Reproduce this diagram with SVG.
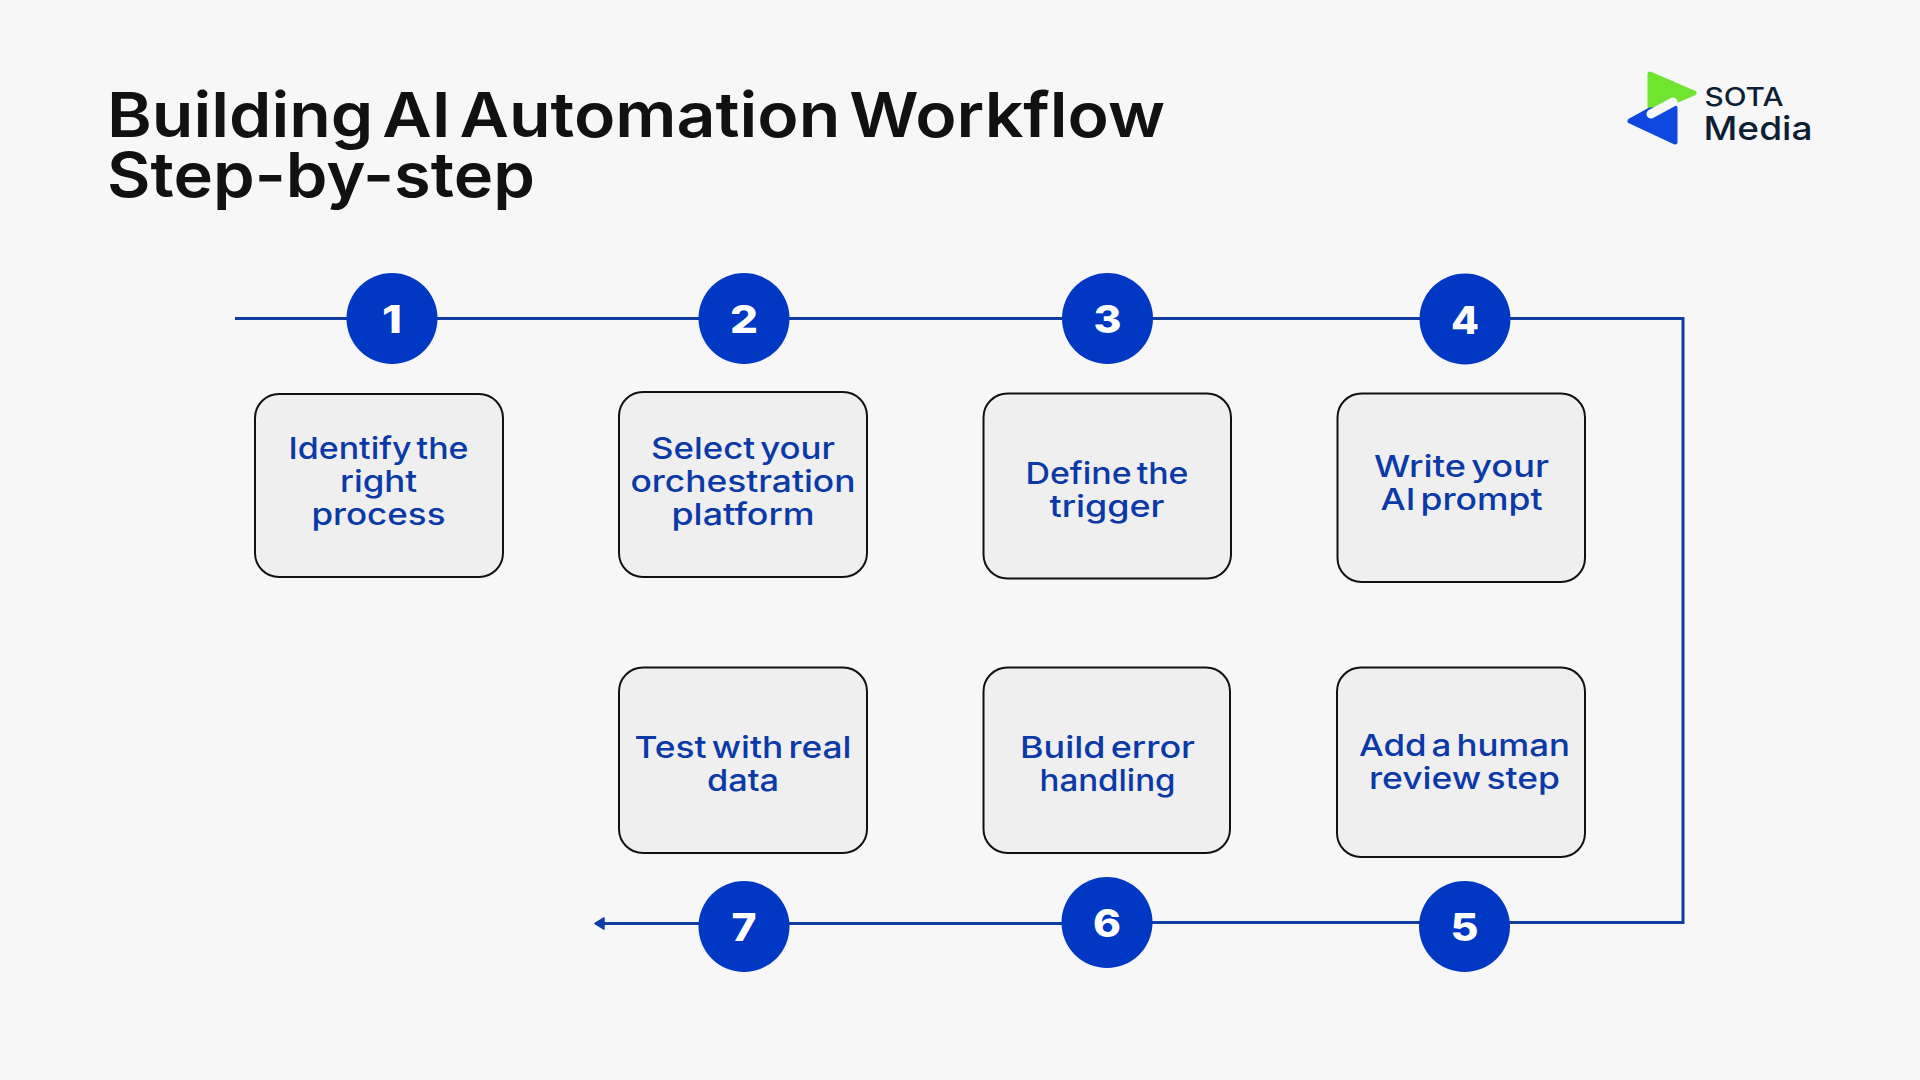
<svg xmlns="http://www.w3.org/2000/svg" width="1920" height="1080" viewBox="0 0 1920 1080">
<style>
.t{font-family:Inter,"Liberation Sans",sans-serif;}
.title{font-size:62px;font-weight:600;fill:#111111;word-spacing:-0.12em;}
.box{fill:#efefef;stroke:#111111;stroke-width:2;}
.lab{font-size:30px;font-weight:500;fill:#0b3aa8;text-anchor:middle;word-spacing:-0.12em;}
.dot{fill:#0038c4;}
.num{font-size:38px;font-weight:800;fill:#ffffff;text-anchor:middle;}
.wire{fill:none;stroke:#0f3ea0;stroke-width:3;}
.brand{fill:#0e1f33;font-weight:500;}
</style>
<defs>
<marker id="head" markerUnits="userSpaceOnUse" markerWidth="13" markerHeight="15" refX="2" refY="7.5" orient="auto" viewBox="0 0 13 15"><path d="M2 2L11 7.5L2 13Z" fill="#0f3ea0" stroke="#0f3ea0" stroke-width="1.5" stroke-linejoin="round"/></marker>
</defs>
<rect width="1920" height="1080" fill="#f7f7f7"/>
<g id="title">
<text class="t title" x="107" y="137" textLength="1058" lengthAdjust="spacingAndGlyphs">Building AI Automation Workflow</text>
<text class="t title" x="107" y="197" textLength="428" lengthAdjust="spacingAndGlyphs">Step-by-step</text>
</g>
<g id="logo">
<path d="M1650 74L1694 93L1650 112Z" fill="#6fe52f" stroke="#6fe52f" stroke-width="5" stroke-linejoin="round"/>
<path d="M1675 108V142L1630 121L1650 110Z" fill="#0f48e0" stroke="#0f48e0" stroke-width="5" stroke-linejoin="round"/>
<path d="M1651 114L1673 102" fill="none" stroke="#f7f7f7" stroke-width="9" stroke-linecap="round"/>
<text class="t brand" x="1704.5" y="106" font-size="25" textLength="79" lengthAdjust="spacingAndGlyphs">SOTA</text>
<text class="t brand" x="1703.5" y="140" font-size="33" textLength="109" lengthAdjust="spacingAndGlyphs">Media</text>
</g>
<g id="connectors">
<path class="wire" d="M235 318.5H1684.5M1683 318.5V922.5M1684.5 922.5H1107M1107 923.5H604" marker-end="url(#head)"/>
</g>
<g id="step-1"><circle class="dot" cx="392" cy="318.5" r="45.5"/><text class="t num" x="392" y="332.5" textLength="20" lengthAdjust="spacingAndGlyphs">1</text>
<rect class="box" x="255" y="394" width="248" height="183" rx="24"/>
<text class="t lab" x="378.5" y="459" textLength="180" lengthAdjust="spacingAndGlyphs">Identify the</text><text class="t lab" x="378.5" y="492" textLength="77" lengthAdjust="spacingAndGlyphs">right</text><text class="t lab" x="378.5" y="525" textLength="134" lengthAdjust="spacingAndGlyphs">process</text></g>
<g id="step-2"><circle class="dot" cx="744" cy="318.5" r="45.5"/><text class="t num" x="744" y="332.5" textLength="28" lengthAdjust="spacingAndGlyphs">2</text>
<rect class="box" x="619" y="392" width="248" height="185" rx="24"/>
<text class="t lab" x="743" y="459" textLength="184" lengthAdjust="spacingAndGlyphs">Select your</text><text class="t lab" x="743" y="492" textLength="225" lengthAdjust="spacingAndGlyphs">orchestration</text><text class="t lab" x="743" y="525" textLength="143" lengthAdjust="spacingAndGlyphs">platform</text></g>
<g id="step-3"><circle class="dot" cx="1107.5" cy="318.5" r="45.5"/><text class="t num" x="1107.5" y="332.5" textLength="28" lengthAdjust="spacingAndGlyphs">3</text>
<rect class="box" x="983.5" y="393.5" width="247.5" height="185" rx="24"/>
<text class="t lab" x="1107" y="484" textLength="163" lengthAdjust="spacingAndGlyphs">Define the</text><text class="t lab" x="1107" y="517" textLength="115" lengthAdjust="spacingAndGlyphs">trigger</text></g>
<g id="step-4"><circle class="dot" cx="1465" cy="319" r="45.5"/><text class="t num" x="1465" y="333.5" textLength="28" lengthAdjust="spacingAndGlyphs">4</text>
<rect class="box" x="1337.5" y="393.5" width="247.5" height="188.5" rx="24"/>
<text class="t lab" x="1461.5" y="477" textLength="175" lengthAdjust="spacingAndGlyphs">Write your</text><text class="t lab" x="1461.5" y="510" textLength="162" lengthAdjust="spacingAndGlyphs">AI prompt</text></g>
<g id="step-5"><circle class="dot" cx="1464.5" cy="926.5" r="45.5"/><text class="t num" x="1464.5" y="940.5" textLength="28" lengthAdjust="spacingAndGlyphs">5</text>
<rect class="box" x="1337" y="667.5" width="248" height="189.5" rx="24"/>
<text class="t lab" x="1464.5" y="756" textLength="211" lengthAdjust="spacingAndGlyphs">Add a human</text><text class="t lab" x="1464.5" y="789" textLength="191" lengthAdjust="spacingAndGlyphs">review step</text></g>
<g id="step-6"><circle class="dot" cx="1107" cy="922.5" r="45.5"/><text class="t num" x="1107" y="936.5" textLength="28" lengthAdjust="spacingAndGlyphs">6</text>
<rect class="box" x="983.5" y="667.5" width="246.5" height="185.5" rx="24"/>
<text class="t lab" x="1107.5" y="758" textLength="175" lengthAdjust="spacingAndGlyphs">Build error</text><text class="t lab" x="1107.5" y="791" textLength="136" lengthAdjust="spacingAndGlyphs">handling</text></g>
<g id="step-7"><circle class="dot" cx="744" cy="926.5" r="45.5"/><text class="t num" x="744" y="940.5" textLength="25" lengthAdjust="spacingAndGlyphs">7</text>
<rect class="box" x="619" y="667.5" width="248" height="185.5" rx="24"/>
<text class="t lab" x="743" y="758" textLength="217" lengthAdjust="spacingAndGlyphs">Test with real</text><text class="t lab" x="743" y="791" textLength="72" lengthAdjust="spacingAndGlyphs">data</text></g>
</svg>
